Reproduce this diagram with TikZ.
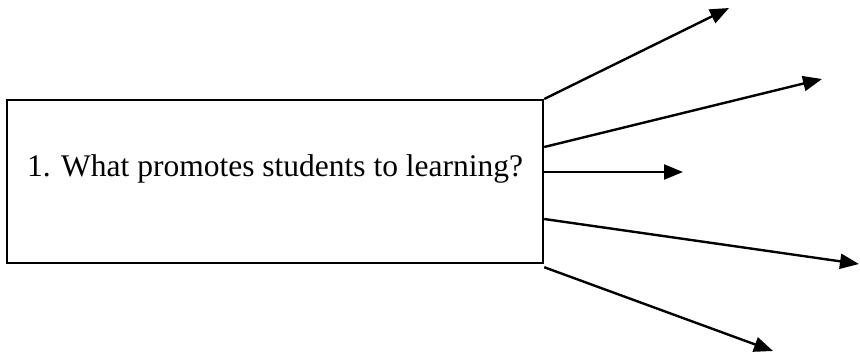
\documentclass[tikz,border=0pt]{standalone}
\usepackage{fontspec}
\setmainfont{Liberation Serif}
\usetikzlibrary{positioning,arrows.meta}

\tikzset{
  qbox/.style={draw, line width=2.2pt, inner sep=0pt, anchor=north west,
    minimum width=536pt, text height=76pt, text depth=87pt,
    font=\fontsize{31.5}{36}\selectfont},
  branch/.style={line width=2.4pt, -{Triangle[length=19pt,width=15pt]}}
}

\begin{document}
\begin{tikzpicture}[x=1pt,y=-1pt]
  % --- page size (reference proportions) ---
  \useasboundingbox (0,0) rectangle (860,357);

  % --- question box ---
  \node[qbox] (question) at (6,99) {1. What promotes students to learning?};

  % --- free ends of the branches ---
  \coordinate (tip1) at (729,8);
  \coordinate (tip2) at (822,79);
  \coordinate (tip3) at (683,172);
  \coordinate (tip4) at (859,264);
  \coordinate (tip5) at (773,351);

  % --- branches ---
  \draw[branch] (question.north east) -- (tip1);
  \draw[branch] ([yshift=-48pt]question.north east) -- (tip2);
  \draw[branch] ([yshift=-73pt]question.north east) -- (tip3);
  \draw[branch] ([yshift=-120pt]question.north east) -- (tip4);
  \draw[branch] ([yshift=-3pt]question.south east) -- (tip5);
\end{tikzpicture}
\end{document}
